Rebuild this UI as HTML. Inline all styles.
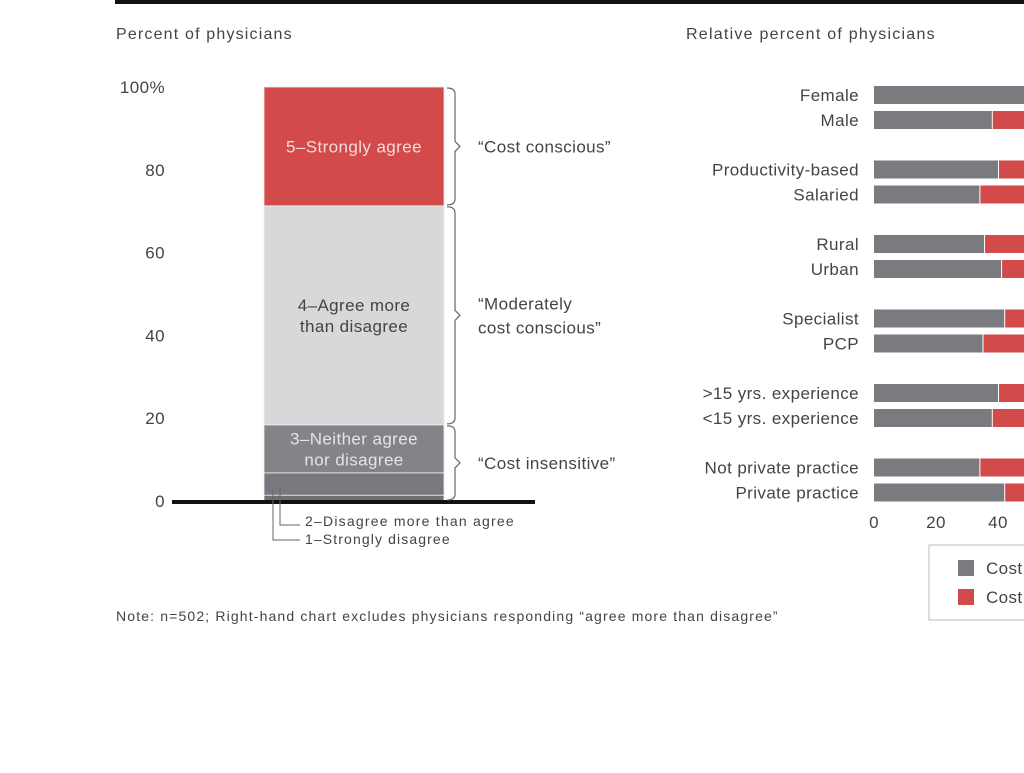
<!DOCTYPE html>
<html><head><meta charset="utf-8"><style>
body{margin:0;width:1024px;height:768px;background:#fff;overflow:hidden;font-family:"Liberation Sans",sans-serif;}
svg text{font-family:"Liberation Sans",sans-serif;letter-spacing:0.4px;}
</style></head><body>
<svg id="c" width="1024" height="768">
<rect x="115" y="0" width="909" height="4" fill="#111"/>
<text x="116" y="39" font-size="16" fill="#444" textLength="176">Percent of physicians</text>
<text x="686" y="39" font-size="16" fill="#444" textLength="249">Relative percent of physicians</text>
<text x="116" y="621" font-size="14" fill="#444" textLength="662">Note: n=502; Right-hand chart excludes physicians responding “agree more than disagree”</text>
<g id="left"></g><g id="right"></g>
</svg>
<script>
const ticks=[0,20,40,60,80,100];
const segLabels=["1–Strongly disagree","2–Disagree more than agree","3–Neither agree nor disagree","4–Agree more than disagree","5–Strongly agree"];
const segValues=[1.4,5.4,11.6,52.9,28.7];
const cats=["Female","Male","Productivity-based","Salaried","Rural","Urban","Specialist","PCP",">15 yrs. experience","<15 yrs. experience","Not private practice","Private practice"];
const insensitive=[56,38,40,34,35.5,41,42,35,40,38,34,42];
const xticks=[0,20,40,60,80,100];
const NS="http://www.w3.org/2000/svg";
function el(t,a,p){const e=document.createElementNS(NS,t);for(const k in a)e.setAttribute(k,a[k]);p.appendChild(e);return e;}
const L=document.getElementById('left'),R=document.getElementById('right');
const y=v=>501-v*4.14;
ticks.forEach(t=>{const e=el('text',{x:165,y:y(t)+6,'font-size':17,fill:'#444','text-anchor':'end'},L);e.textContent=t===100?'100%':t;

});
const cols=['#6f7075','#78797e','#838488','#d8d8db','#d24a4a'];
let cum=0;
segValues.forEach((v,i)=>{const r=el('rect',{x:264,y:y(cum+v),width:180,height:v*4.14,fill:cols[i],stroke:'#eee','stroke-width':0.8},L);

cum+=v;});
function lbl(lines,v0,v1,col,name){const m=(y(v0)+y(v1))/2;lines.forEach((s,k)=>{const e=el('text',{x:354,y:m+6+(k-(lines.length-1)/2)*21,'font-size':17,fill:col,'text-anchor':'middle'},L);e.textContent=s;

});}
let c=segValues[0]+segValues[1];
lbl(["3–Neither agree","nor disagree"],c,c+segValues[2],'#e4e4e4','segment-3-label');c+=segValues[2];
lbl(["4–Agree more","than disagree"],c,c+segValues[3],'#444','segment-4-label');c+=segValues[3];
lbl(["5–Strongly agree"],c,c+segValues[4],'#f6dada','segment-5-label');
const ax=el('line',{x1:172,x2:535,y1:502,y2:502,stroke:'#111','stroke-width':4},L);

function br(v0,v1,texts,name){const a=y(v1)+1,b=y(v0)-1,m=(a+b)/2;el('path',{d:`M447 ${a} q8 0 8 6 V${m-5} l5 5 l-5 5 V${b-6} q0 6 -8 6`,fill:'none',stroke:'#666','stroke-width':1.2},L);
texts.forEach((s,k)=>{const e=el('text',{x:478,y:m+6+(k-(texts.length-1)/2)*24,'font-size':17,fill:'#444'},L);e.textContent=s;

});}
const s3=segValues[0]+segValues[1]+segValues[2],s4=s3+segValues[3];
br(0,s3,["“Cost insensitive”"],'bracket-insensitive');
br(s3,s4,["“Moderately","cost conscious”"],'bracket-moderate');
br(s4,100,["“Cost conscious”"],'bracket-conscious');
el('path',{d:'M280 485 V525 H300',fill:'none',stroke:'#666'},L);
el('path',{d:'M273 490 V540 H300',fill:'none',stroke:'#666'},L);
[[segLabels[1],526,209],[segLabels[0],544,145]].forEach(([s,yy,w],i)=>{const e=el('text',{x:305,y:yy,'font-size':14,fill:'#444',textLength:w},L);e.textContent=s;

});
const x=v=>874+v*3.1;
cats.forEach((n,i)=>{const cy=95+Math.floor(i/2)*74.5+(i%2)*25;
const t=el('text',{x:859,y:cy+6,'font-size':17,fill:'#444','text-anchor':'end'},R);t.textContent=n;


const g=el('rect',{x:x(0),y:cy-9,width:x(insensitive[i])-x(0),height:18,fill:'#7a7b7f'},R);


const r=el('rect',{x:x(insensitive[i])+1,y:cy-9,width:x(100)-x(insensitive[i]),height:18,fill:'#d24a4a'},R);

});
xticks.forEach(t=>{const e=el('text',{x:x(t),y:528,'font-size':17,fill:'#444','text-anchor':'middle'},R);e.textContent=t;

});
const lg=el('rect',{x:929,y:545,width:110,height:75,fill:'#fff',stroke:'#bbb'},R);

[['#7a7b7f',568],['#d24a4a',597]].forEach(([f,cy],i)=>{el('rect',{x:958,y:cy-8,width:16,height:16,fill:f},R);
const e=el('text',{x:986,y:cy+6,'font-size':17,fill:'#444'},R);e.textContent='Cost';

});
</script>
</body></html>
